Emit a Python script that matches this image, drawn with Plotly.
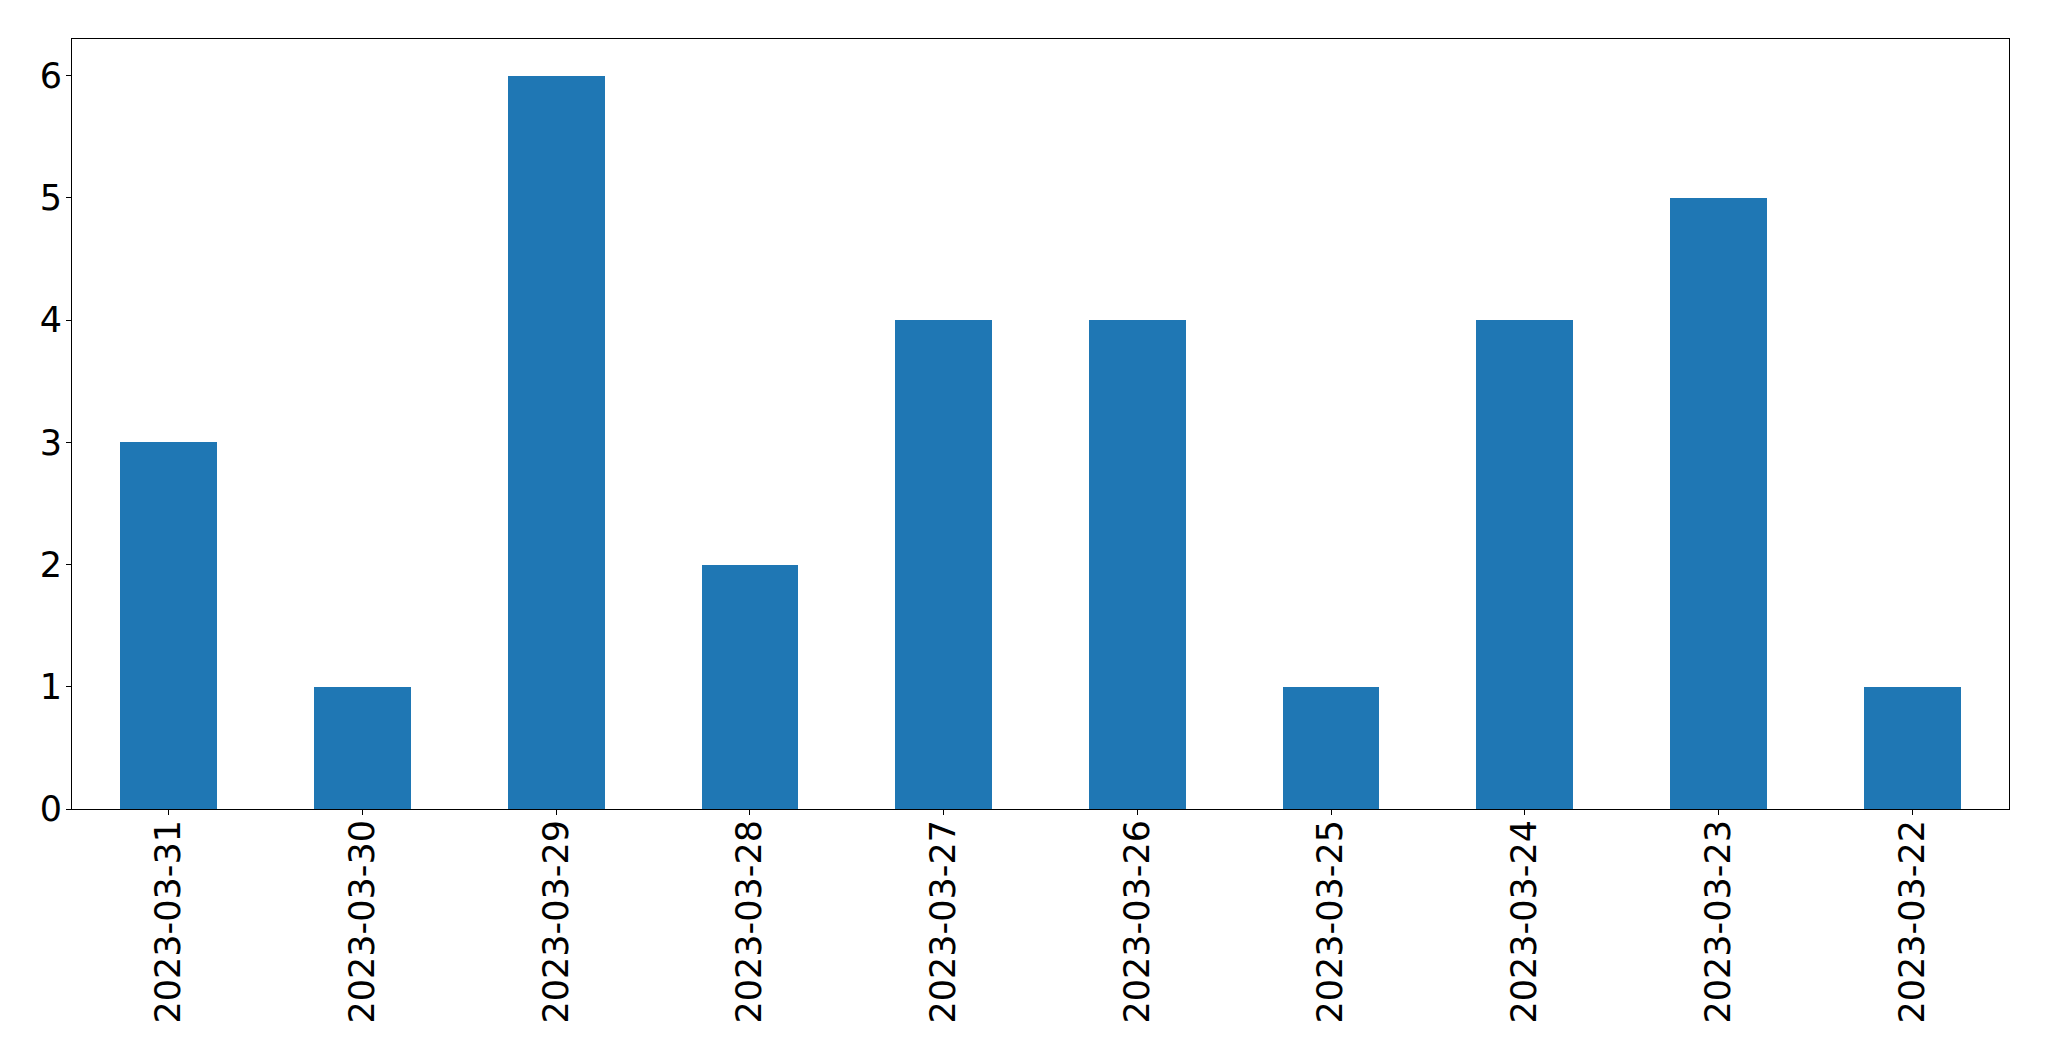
import plotly.graph_objects as go

dates = ["2023-03-31", "2023-03-30", "2023-03-29", "2023-03-28", "2023-03-27",
         "2023-03-26", "2023-03-25", "2023-03-24", "2023-03-23", "2023-03-22"]
counts = [3, 1, 6, 2, 4, 4, 1, 4, 5, 1]
y_ticks = [0, 1, 2, 3, 4, 5, 6]

fig = go.Figure(go.Bar(x=dates, y=counts, marker_color="#1f77b4", width=0.5,
                       marker_line_width=0))

font = dict(family="DejaVu Sans", size=35, color="black")
fig.update_layout(
    width=2033, height=1045,
    margin=dict(l=64, r=32, t=31, b=244, pad=0, autoexpand=False),
    plot_bgcolor="white", paper_bgcolor="white",
    showlegend=False,
    font=font,
    bargap=0,
)
fig.update_xaxes(type="category", range=[-0.5, 9.5], tickangle=-90,
                 showline=True, linecolor="black", linewidth=1.1, mirror=True,
                 ticks="outside", ticklen=5, tickcolor="black", tickwidth=1.1,
                 showgrid=False, zeroline=False, tickfont=font,
                 ticklabelstandoff=-9, automargin=False)
fig.update_yaxes(range=[0, 6.3], tickvals=y_ticks,
                 showline=True, linecolor="black", linewidth=1.1, mirror=True,
                 ticks="outside", ticklen=5, tickcolor="black", tickwidth=1.1,
                 showgrid=False, zeroline=False, tickfont=font,
                 ticklabelstandoff=-3, automargin=False)

fig.write_html("out.html")
